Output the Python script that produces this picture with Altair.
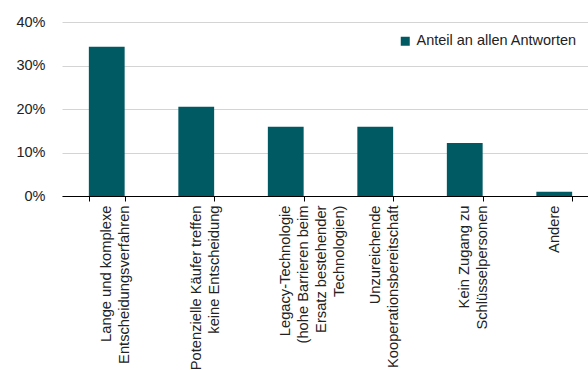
import altair as alt
import pandas as pd

categories = [
    "Lange und komplexe|Entscheidungsverfahren",
    "Potenzielle Käufer treffen|keine Entscheidung",
    "Legacy-Technologie|(hohe Barrieren beim|Ersatz bestehender|Technologien)",
    "Unzureichende|Kooperationsbereitschaft",
    "Kein Zugang zu|Schlüsselpersonen",
    "Andere",
]
values = [0.343, 0.205, 0.159, 0.159, 0.122, 0.010]
series_name = "Anteil an allen Antworten"
y_ticks = [0, 0.1, 0.2, 0.3, 0.4]

df = pd.DataFrame({"cat": categories, "val": values, "series": series_name})

FONT = "Liberation Sans"
TEAL = "#005a63"

chart = (
    alt.Chart(df)
    .mark_bar(color=TEAL)
    .encode(
        x=alt.X(
            "cat:N",
            sort=None,
            title=None,
            scale=alt.Scale(range=[0, 537], paddingInner=0.6, paddingOuter=0.3),
            axis=alt.Axis(
                labelAngle=-90,
                labelAlign="right",
                labelBaseline="middle",
                labelExpr="split(datum.label, '|')",
                labelLineHeight=18,
                labelPadding=4,
                labelFont=FONT,
                labelFontSize=14.7,
                labelColor="#222222",
                labelLimit=0,
                tickBand="extent",
                tickSize=5,
                tickColor="#000000",
                domainColor="#000000",
                grid=False,
            ),
        ),
        y=alt.Y(
            "val:Q",
            title=None,
            scale=alt.Scale(domain=[0, 0.4], nice=False),
            axis=alt.Axis(
                values=y_ticks,
                format=".0%",
                domain=False,
                ticks=False,
                labelPadding=17,
                labelFont=FONT,
                labelFontSize=14.5,
                labelColor="#222222",
                gridColor="#d4d4d4",
                gridWidth=1,
            ),
        ),
        color=alt.Color(
            "series:N",
            scale=alt.Scale(range=[TEAL]),
            legend=alt.Legend(
                title=None,
                orient="none",
                legendX=336,
                legendY=12,
                symbolType="square",
                symbolSize=81,
                symbolStrokeWidth=0,
                symbolOpacity=1,
                labelFont=FONT,
                labelFontSize=14.5,
                labelColor="#222222",
                labelLimit=0,
                labelOffset=4,
                padding=0,
            ),
        ),
    )
    .properties(
        width=526,
        height=174,
        autosize=alt.AutoSizeParams(type="none"),
        padding={"left": 62, "top": 22, "right": 0, "bottom": 174},
    )
    .configure_view(stroke=None)
)

chart.save("out.html", embed_options={"renderer": "svg", "actions": False})
